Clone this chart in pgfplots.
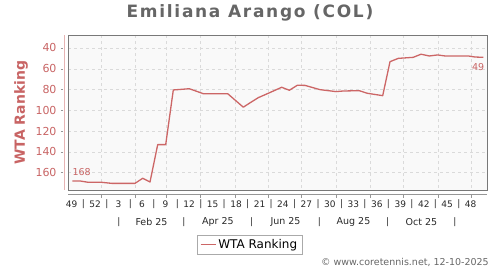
\documentclass[border=0pt]{standalone}
\usepackage{fontspec}
\setmainfont{DejaVu Sans}
\newfontfamily\titlefont[LetterSpace=10]{DejaVu Sans}
\usepackage{pgfplots}
\pgfplotsset{compat=1.18}
\definecolor{rankred}{RGB}{204,102,102}
\definecolor{labred}{RGB}{200,100,100}
\definecolor{bgc}{RGB}{249,249,249}
\definecolor{boxc}{RGB}{120,120,120}
\definecolor{gridc}{RGB}{218,218,218}
\definecolor{yaxc}{RGB}{230,180,180}
\definecolor{xaxc}{RGB}{150,150,150}
\definecolor{titlec}{RGB}{102,102,102}
\definecolor{weekc}{RGB}{40,40,40}
\definecolor{legc}{RGB}{170,170,170}
\begin{document}
\begin{tikzpicture}
\path[use as bounding box] (0,0) rectangle (500pt,-270pt);
\begin{axis}[
  at={(68pt,-35.3pt)}, anchor=north west,
  scale only axis, width=419.3pt, height=154.7pt,
  xmin=68, xmax=487.3, ymin=27.8, ymax=176.7, y dir=reverse,
  clip=false,
  axis background/.style={fill=bgc},
  axis line style={draw=boxc, line width=0.9pt},
  xtick={101.7,135,166.7,200,235,268.3,301.7,336,370,403.3,438.3,471.7},
  xticklabels={},
  ytick={40,60,80,100,120,140,160},
  grid=major,
  grid style={dashed, gridc, line width=0.5pt},
  major tick length=0pt,
  /pgf/number format/assume math mode=true,
  yticklabel style={font=\fontsize{11}{11}\selectfont, text=labred, anchor=east, inner sep=0pt, xshift=-11.3pt},
  xticklabel style={font=\fontsize{9}{9}\selectfont, text=weekc, anchor=center, inner sep=0pt, yshift=-14pt},
  extra x ticks={71.7,95.2,118.6,142.1,165.6,189.1,212.5,236.0,259.5,282.9,306.4,329.9,353.3,376.8,400.3,423.8,447.2,470.7},
  extra x tick labels={49,52,3,6,9,12,15,18,21,24,27,30,33,36,39,42,45,48},
  extra x tick style={grid=none},
  ylabel={WTA Ranking},
  ylabel style={at={(axis description cs:0,0.5)}, anchor=center, yshift=47pt, font=\bfseries\fontsize{14}{14}\selectfont, text=labred},
  title={Emiliana Arango (COL)},
  title style={at={(axis description cs:0.434,1)}, anchor=base, yshift=12pt, font=\titlefont\bfseries\fontsize{17}{17}\selectfont, text=titlec},
  legend style={at={(axis description cs:0.433,0)}, anchor=north, yshift=-45pt, draw=legc, line width=0.6pt, fill=white, font=\fontsize{12}{12}\selectfont, inner xsep=3pt, inner ysep=2pt},
  legend image code/.code={\draw[#1] (0pt,0pt) -- (15pt,0pt);},
]
\addplot[rankred, line width=1.3pt, line join=round] coordinates {
 (72.3,168) (80,168) (88.3,169.3) (101.7,169.3) (111.7,170.3) (135,170.3)
 (142.7,165.4) (150,169) (157.7,133) (165.7,133) (173.3,80.4) (181.7,79.8)
 (189.3,79.2) (203.3,84) (227.7,84) (243.3,97) (250,92.8) (258.3,87.8)
 (268.3,83.6) (281.7,77.8) (289.3,80.7) (297.3,75.9) (305,76) (320,80.1)
 (336,82) (343.3,81.4) (359.3,81.1) (367.3,83.6) (382.7,85.9) (390,53.2)
 (398.3,50) (413.3,49) (421,46) (429.3,47.7) (437.7,46.7) (445,47.7)
 (468.3,47.7) (475,48.7) (483.3,49)
};
\addlegendentry{WTA Ranking}
% end-point labels
\node[anchor=base west, text=labred, font=\fontsize{9.5}{9.5}\selectfont, inner sep=0pt] at (axis cs:72.3,168) [yshift=5pt] {168};
\node[anchor=north east, text=labred, font=\fontsize{9.5}{9.5}\selectfont, inner sep=0pt] at (axis cs:484.3,49) [yshift=-6pt] {49};
% offset axis lines
\draw[yaxc, line width=0.8pt] (axis cs:64,27.8) -- (axis cs:64,176.7);
\pgfplotsinvokeforeach{40,60,80,100,120,140,160}{
  \draw[xaxc, line width=0.5pt] (axis cs:60.8,#1) -- (axis cs:63.3,#1);
}
\draw[xaxc, line width=0.8pt] ([yshift=-4.5pt]axis cs:68,176.7) -- ([yshift=-4.5pt]axis cs:487.3,176.7);
\pgfplotsinvokeforeach{101.7,135,166.7,200,235,268.3,301.7,336,370,403.3,438.3,471.7}{
  \draw[xaxc, line width=0.5pt] ([yshift=-4.5pt]axis cs:#1,176.7) -- ([yshift=-7.5pt]axis cs:#1,176.7);
}
% week separators
\pgfplotsinvokeforeach{83.4,106.9,130.4,153.8,177.3,200.8,224.2,247.7,271.2,294.6,318.1,341.6,365.0,388.5,412.0,435.5,458.9}{
  \node[text=weekc, font=\fontsize{9}{9}\selectfont, inner sep=0pt] at ([yshift=-14pt]axis cs:#1,176.7) {|};
}
% month row
\pgfplotsinvokeforeach{119,184,251.7,319.3,387.7,455}{
  \node[text=weekc, font=\fontsize{9}{9}\selectfont, inner sep=0pt] at ([yshift=-32pt]axis cs:#1,176.7) {|};
}
\node[text=weekc, font=\fontsize{9.5}{9.5}\selectfont, inner sep=0pt] at ([yshift=-32pt]axis cs:151.5,176.7) {Feb 25};
\node[text=weekc, font=\fontsize{9.5}{9.5}\selectfont, inner sep=0pt] at ([yshift=-32pt]axis cs:217.9,176.7) {Apr 25};
\node[text=weekc, font=\fontsize{9.5}{9.5}\selectfont, inner sep=0pt] at ([yshift=-32pt]axis cs:285.5,176.7) {Jun 25};
\node[text=weekc, font=\fontsize{9.5}{9.5}\selectfont, inner sep=0pt] at ([yshift=-32pt]axis cs:353.5,176.7) {Aug 25};
\node[text=weekc, font=\fontsize{9.5}{9.5}\selectfont, inner sep=0pt] at ([yshift=-32pt]axis cs:421.4,176.7) {Oct 25};
\end{axis}
\node[anchor=base east, text=titlec, font=\fontsize{9.5}{9.5}\selectfont, inner sep=0pt] at (489pt,-265pt) {© www.coretennis.net, 12-10-2025};
\end{tikzpicture}
\end{document}
